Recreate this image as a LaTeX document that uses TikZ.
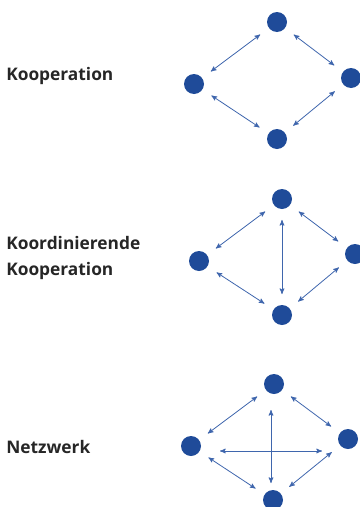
\documentclass[tikz,border=0pt]{standalone}
\usepackage{fontspec}
\setmainfont{Open Sans}
\usepackage{xcolor}
\usepackage{tikz}
\usetikzlibrary{arrows,shapes,positioning}
\definecolor{nodeblue}{HTML}{1F4B99}
\definecolor{lineblue}{HTML}{3F66AD}

\begin{document}
\begin{tikzpicture}[x=0.75pt,y=-0.75pt,
  main node/.style={circle,fill=nodeblue,inner sep=0pt,minimum size=15pt},
  label node/.style={anchor=base west,inner sep=0pt,font=\bfseries\fontsize{13}{19}\selectfont,align=left,text=black!85},
  link/.style={<->,>=stealth',lineblue,line width=0.6pt,shorten <=8pt,shorten >=8pt}]
  \useasboundingbox (0,0) rectangle (360,507);

  % Kooperation
  \node[label node] (t1) at (6,80) {Kooperation};
  \node[main node] (a1) at (277,22) {};
  \node[main node] (a2) at (194,84) {};
  \node[main node] (a3) at (351,78) {};
  \node[main node] (a4) at (277,139) {};
  \path[link]
    (a1) edge (a2)
         edge (a3)
    (a4) edge (a2)
         edge (a3);

  % Koordinierende Kooperation
  \node[label node] (t2) at (6,275) {Koordinierende\\Kooperation};
  \node[main node] (b1) at (282,199) {};
  \node[main node] (b2) at (199,261) {};
  \node[main node] (b3) at (355,254) {};
  \node[main node] (b4) at (282,315) {};
  \path[link]
    (b1) edge (b2)
         edge (b3)
         edge (b4)
    (b4) edge (b2)
         edge (b3);

  % Netzwerk
  \node[label node] (t3) at (6,453) {Netzwerk};
  \node[main node] (c1) at (274,384) {};
  \node[main node] (c2) at (191,446) {};
  \node[main node] (c3) at (348,439) {};
  \node[main node] (c4) at (273,500) {};
  \coordinate (h1) at (220,451);
  \coordinate (h2) at (322,451);
  \coordinate (v1) at (271,410);
  \coordinate (v2) at (271,483);
  \path[link]
    (c1) edge (c2)
         edge (c3)
    (c4) edge (c2)
         edge (c3);
  \path[link,shorten <=0pt,shorten >=0pt]
    (h1) edge (h2)
    (v1) edge (v2);

\end{tikzpicture}
\end{document}
